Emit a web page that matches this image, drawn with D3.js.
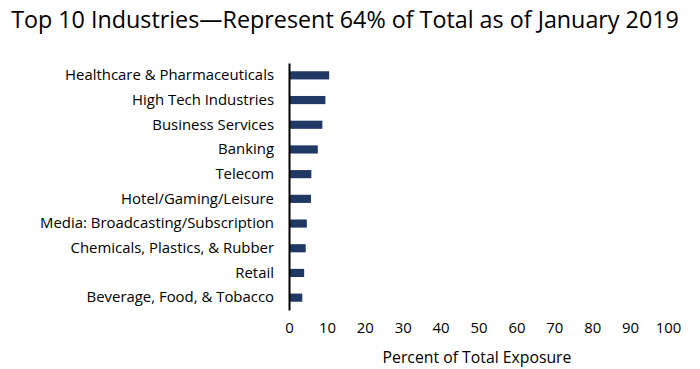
<!DOCTYPE html>
<html><head><meta charset="utf-8">
<script src="https://cdn.jsdelivr.net/npm/d3@7"></script>
<style>body{margin:0;background:#fff}svg{display:block}</style>
</head><body>
<script>
const categories = ["Healthcare & Pharmaceuticals","High Tech Industries","Business Services","Banking","Telecom","Hotel/Gaming/Leisure","Media: Broadcasting/Subscription","Chemicals, Plastics, & Rubber","Retail","Beverage, Food, & Tobacco"];
const values = [10.6, 9.6, 8.8, 7.6, 5.9, 5.8, 4.7, 4.4, 4.0, 3.5];
const xTicks = [0,10,20,30,40,50,60,70,80,90,100];
const title = "Top 10 Industries\u2014Represent 64% of Total as of January 2019";
const xTitle = "Percent of Total Exposure";

const W=700,H=369;
const font = "'Open Sans', sans-serif";
const svg = d3.select("body").append("svg").attr("width",W).attr("height",H);
const x = d3.scaleLinear().domain([0,100]).range([289,668]);
const y = d3.scaleBand().domain(categories).range([63,310]).paddingInner(0.67).paddingOuter(0.335);

function fit(sel, target){ // scale font size so the text spans the target width
  const n = sel.node(); const fs = +sel.attr("font-size");
  const w = n.getComputedTextLength(); sel.attr("font-size", fs*target/w);
}

const t = svg.append("text").attr("x",345).attr("y",28).attr("text-anchor","middle")
  .attr("font-family",font).attr("font-size",22).attr("fill","#000").text(title);
fit(t, 668);

svg.selectAll("rect.bar").data(values).join("rect").attr("class","bar")
  .attr("x",x(0)).attr("y",(d,i)=>y(categories[i]))
  .attr("width",d=>x(d)-x(0)).attr("height",y.bandwidth()).attr("fill","#1f3864");

const yAxis = svg.append("g").attr("transform",`translate(${x(0)},0)`)
  .call(d3.axisLeft(y).tickSize(0).tickPadding(15));
yAxis.select(".domain").attr("stroke","#000").attr("stroke-width",2);
yAxis.selectAll("text").attr("font-family",font).attr("font-size",14).attr("fill","#000");
const first = yAxis.select(".tick text");
const w0 = first.node().getComputedTextLength();
yAxis.selectAll("text").attr("font-size", 14*209/w0);

const xAxis = svg.append("g").attr("transform",`translate(0,312)`)
  .call(d3.axisBottom(x).tickValues(xTicks).tickSize(0).tickPadding(10));
xAxis.select(".domain").remove();
xAxis.selectAll("text").attr("font-family",font).attr("font-size",14*209/w0).attr("fill","#000");

const xt = svg.append("text").attr("x",477).attr("y",363).attr("text-anchor","middle")
  .attr("font-family",font).attr("font-size",14).attr("fill","#000").text(xTitle);
fit(xt, 189);
</script>
</body></html>
